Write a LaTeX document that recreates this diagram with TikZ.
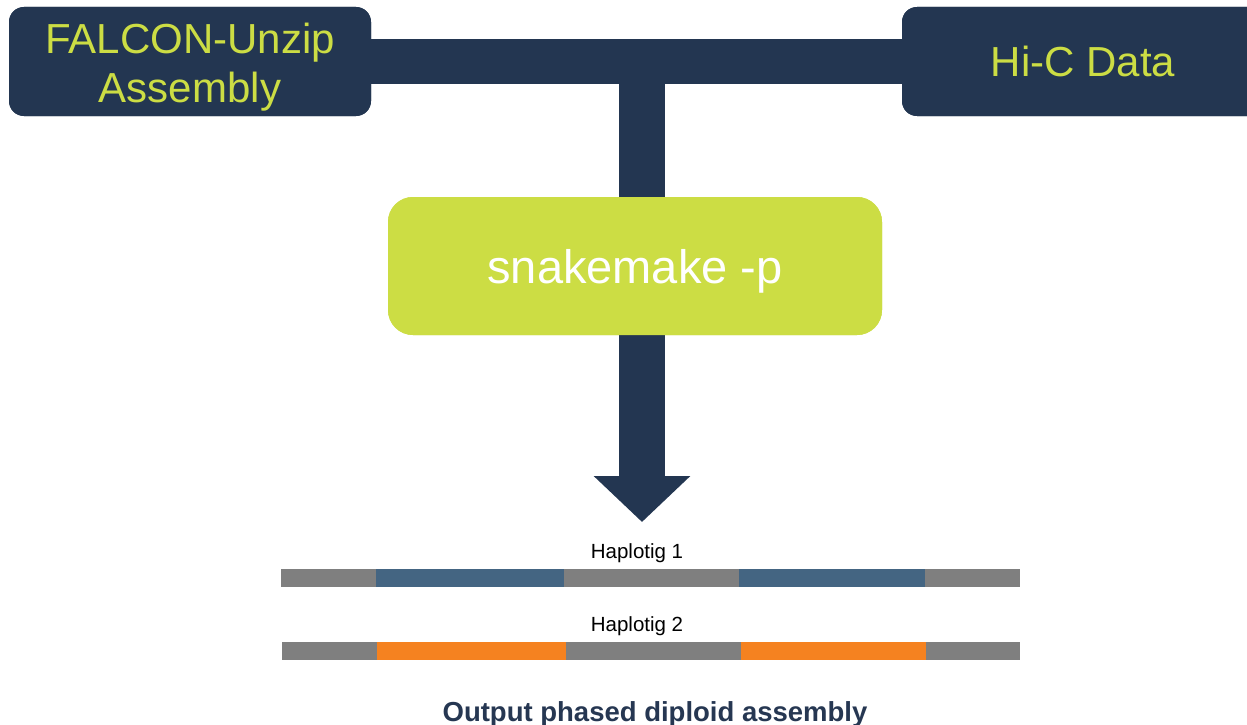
\documentclass[tikz,border=0pt]{standalone}
\usepackage{fontspec}
\setmainfont{Liberation Sans}
\usetikzlibrary{arrows.meta}
\definecolor{navy}{RGB}{35,54,81}
\definecolor{lime}{RGB}{204,221,68}
\definecolor{limetext}{RGB}{204,221,68}
\definecolor{segblue}{RGB}{68,101,130}
\definecolor{segorange}{RGB}{245,130,32}
\definecolor{seggray}{RGB}{127,127,127}
\definecolor{outnavy}{RGB}{38,55,82}
\tikzset{
  inbox/.style={fill=navy, draw=none, rounded corners=15pt, minimum width=362pt, minimum height=109pt, inner sep=0pt},
  intext/.style={text=limetext, align=center, inner sep=0pt, font=\fontsize{42}{48}\selectfont},
  procbox/.style={fill=lime, draw=none, rounded corners=25pt, minimum width=494pt, minimum height=138pt, inner sep=0pt, text=white, text depth=0pt, font=\fontsize{47}{52}\selectfont},
  connector/.style={draw=navy},
  haplabel/.style={font=\fontsize{20.5}{22}\selectfont, text=black, inner sep=0pt, text depth=0pt},
}
\begin{document}
\begin{tikzpicture}[x=1pt,y=-1pt]
\useasboundingbox (0,0) rectangle (1247,725);
\fill[white] (0,0) rectangle (1247,725);
\coordinate (junction) at (642,61);
\coordinate (tip) at (642,522);
% boxes (positions), connectors, then boxes redrawn on top
\node[inbox] (falcon) at (190,61.5) {};
\node[inbox] (hic) at (1083,61.5) {};
\node[procbox] (snake) at (635,266) {};
\draw[connector, line width=44pt] (falcon.east) -- (hic.west);
\draw[connector, line width=46pt] (junction) -- (junction |- snake.north);
\draw[connector, line width=46pt, -{Triangle[width=94pt,length=46pt]}] (snake.south -| junction) -- (tip);
\node[inbox] at (190,61.5) {};
\node[inbox] at (1083,61.5) {};
\node[procbox] at (635,266) {snakemake -p};
\node[intext, anchor=base] (falcontext) at (190,53) {FALCON-Unzip};
\node[intext, anchor=base] (falcontext2) at (190,102) {Assembly};
\node[intext, anchor=base] (hictext) at (1083,77) {Hi-C Data};
% haplotig 1
\node[haplabel, anchor=base] (h1) at (637,558) {Haplotig 1};
\fill[seggray] (281,569) rectangle (376,587);
\fill[segblue] (376,569) rectangle (564,587);
\fill[seggray] (564,569) rectangle (739,587);
\fill[segblue] (739,569) rectangle (925,587);
\fill[seggray] (925,569) rectangle (1020,587);
% haplotig 2
\node[haplabel, anchor=base] (h2) at (637,631) {Haplotig 2};
\fill[seggray] (282,642) rectangle (377,660);
\fill[segorange] (377,642) rectangle (566,660);
\fill[seggray] (566,642) rectangle (741,660);
\fill[segorange] (741,642) rectangle (926,660);
\fill[seggray] (926,642) rectangle (1020,660);
% output label
\node[font=\bfseries\fontsize{27.5}{30}\selectfont, text=outnavy, anchor=base, inner sep=0pt] (out) at (655,721) {Output phased diploid assembly};
\end{tikzpicture}
\end{document}
